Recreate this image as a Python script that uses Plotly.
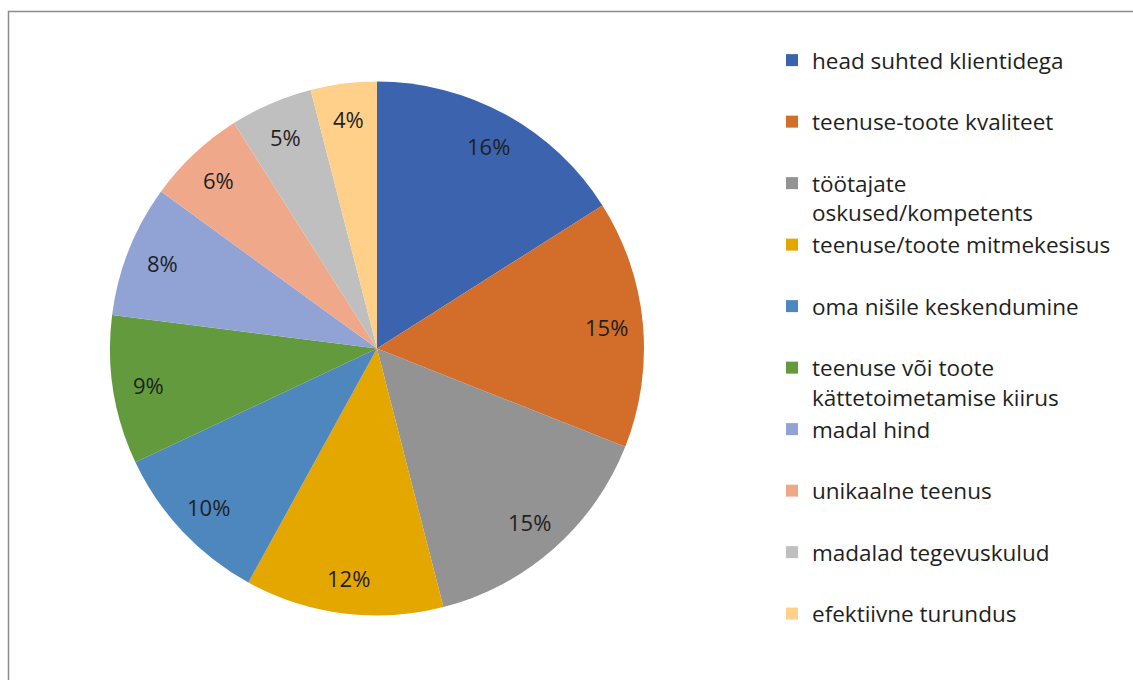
import math
import plotly.graph_objects as go

# Competitive advantages, share of responses (%)
categories = [
    "head suhted klientidega",
    "teenuse-toote kvaliteet",
    "töötajate<br>oskused/kompetents",
    "teenuse/toote mitmekesisus",
    "oma nišile keskendumine",
    "teenuse või toote<br>kättetoimetamise kiirus",
    "madal hind",
    "unikaalne teenus",
    "madalad tegevuskulud",
    "efektiivne turundus",
]
shares = [16, 15, 15, 12, 10, 9, 8, 6, 5, 4]
slice_colors = [
    "#3C64AE", "#D36D2A", "#939393", "#E3A700", "#4E87BE",
    "#629A3D", "#91A3D5", "#F0A88A", "#BFBFBF", "#FFD08A",
]

# single-line entries get an empty second line so every legend slot is equal
legend_labels = [c if "<br>" in c else c + "<br>&nbsp;" for c in categories]

W, H = 1133, 680
cx, cy, r = 377, 348.5, 267          # pie centre and radius in pixels
label_r = 0.865 * r                  # percentage labels sit near the rim

fig = go.Figure(
    go.Pie(
        labels=legend_labels,
        values=shares,
        marker=dict(colors=slice_colors, line=dict(width=0)),
        sort=False,
        direction="clockwise",
        rotation=0,
        textinfo="none",
        hoverinfo="label+percent",
        domain=dict(
            x=[(cx - r) / W, (cx + r) / W],
            y=[(H - cy - r) / H, (H - cy + r) / H],
        ),
    )
)

# percentage labels placed at each slice's mid-angle
total = sum(shares)
annotations = []
cum = 0.0
for v in shares:
    mid = (cum + v / 2) / total * 2 * math.pi
    cum += v
    px = cx + label_r * math.sin(mid)
    py = cy - label_r * math.cos(mid)
    annotations.append(
        dict(
            x=px / W,
            y=1 - py / H,
            xref="paper",
            yref="paper",
            text=f"{round(100 * v / total)}%",
            showarrow=False,
            xanchor="center",
            yanchor="middle",
            font=dict(family="Open Sans", size=22, color="#1F1F1F"),
        )
    )

fig.update_layout(
    width=W,
    height=H,
    margin=dict(l=0, r=0, t=0, b=0),
    paper_bgcolor="white",
    showlegend=True,
    legend=dict(
        x=772 / W,
        y=1 - 39 / H,
        xanchor="left",
        yanchor="top",
        valign="top",
        font=dict(family="Open Sans", size=22.5, color="#1F1F1F"),
        bgcolor="rgba(0,0,0,0)",
    ),
    annotations=annotations,
    shapes=[
        dict(
            type="rect",
            xref="paper",
            yref="paper",
            x0=8.5 / W,
            y0=1 - 11.5 / H,
            x1=1.02,
            y1=-0.02,
            line=dict(color="#8C8C8C", width=1.5),
            fillcolor="rgba(0,0,0,0)",
        )
    ],
)

fig.write_html("out.html")
